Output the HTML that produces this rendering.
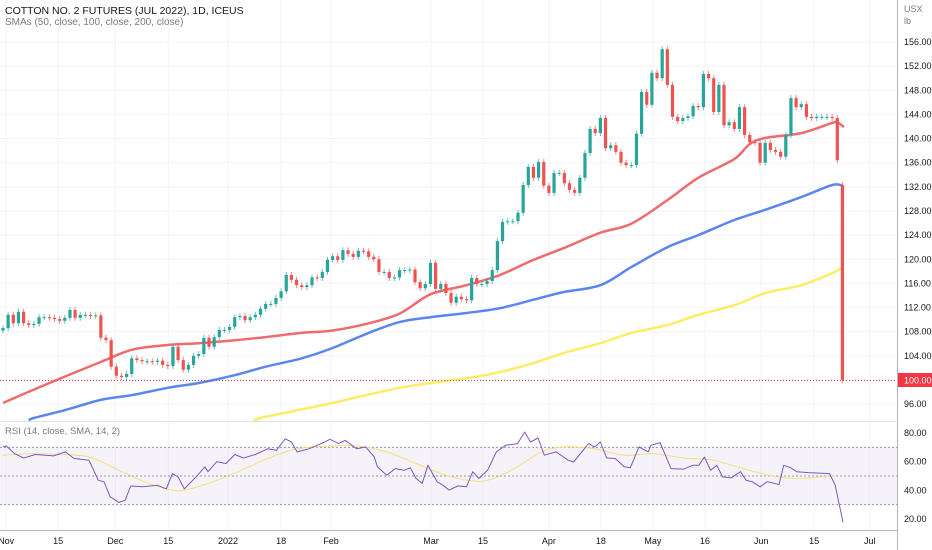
<!DOCTYPE html>
<html><head><meta charset="utf-8"><style>
html,body{margin:0;padding:0;background:#fff;}
svg{display:block;font-family:"Liberation Sans",sans-serif;}
</style></head><body>
<svg id="chart" width="932" height="550" viewBox="0 0 932 550">
<rect x="0" y="0" width="932" height="550" fill="#fff"/>
<g id="grid"></g>
<g id="rsiPane"></g>
<g id="smaLines"></g>
<g id="candles"></g>
<g id="axes"></g>
<text x="5" y="14" font-size="10.5" fill="#131722">COTTON NO. 2 FUTURES (JUL 2022), 1D, ICEUS</text>
<text x="5" y="25" font-size="10" fill="#787b86">SMAs (50, close, 100, close, 200, close)</text>
<text x="5" y="434" font-size="9.5" fill="#787b86">RSI (14, close, SMA, 14, 2)</text>
</svg>
<script>
const closes = [108.6,110.8,109.4,111.3,109.4,109.1,109.3,110.4,110.4,110.3,110.1,109.8,110.3,111.6,110.3,110.8,110.8,110.6,110.7,107,106.6,102.2,100.7,100.5,101,103.6,103.3,103.1,103.1,103,103.2,102.5,102.3,105.5,103.3,101.7,102.5,104,104.3,107,105.5,107.1,108.3,108.3,108.8,110.4,110.6,109.9,110.4,110.8,111.8,112.6,112.6,113.6,114.7,117.4,116.6,115.7,
115.4,115.7,117,116.9,117.9,119.9,120.5,119.9,121.5,120.9,120.4,121.4,121.3,120.4,120,117.9,117.9,116.9,117,118.2,118.2,118.3,116.2,115.2,115.9,119.4,115.1,115.9,114.4,112.8,113.8,113.4,113.2,116.9,115.9,115.9,116.4,118.2,123,126.2,126.3,126.3,127.7,132.3,135.3,133.5,136.1,132.2,131,134.3,134.3,132.6,131.5,131,133.5,137.6,
141.6,140.9,143.4,138.4,138.9,137.8,136,135.6,135.6,140.8,147.7,145.6,150.9,150,154.8,148.9,143.6,142.9,143.4,143.7,145.4,145.2,150.7,150,144.4,148.9,142.2,142.7,141.6,145.2,140.6,139.4,139.3,136,139.3,138.1,137.8,137,140.6,146.7,145.2,145.7,143.6,143.4,143.6,143.6,143.6,143.4,136.4,100];
const firstOpen = 108.2;
const gapOpenIdx = [163];
const gapOpenVal = [132.3];

const sma50Idx = [0,9,19,25,32,38,45,51,58,64,71,77,83,90,96.5,103,109,116,122,129,135,142,145,148,155,161,162,163.3];
const sma50Val = [96.2,99.5,103,105,105.8,106.1,106.6,107.1,107.8,108.2,109.4,111,114.2,115.7,117.4,119.9,121.9,124.4,125.9,129.8,133.5,136.6,139.1,140.1,140.9,142.6,142.7,141.9];
const sma100Idx = [5,6,12,19,25,32,38,45,51,58,64,71,77,83,90,96.5,103,109,116,122,129,135,142,148,155,161,163];
const sma100Val = [93.3,93.7,95,96.7,97.5,98.7,99.5,100.8,102.2,103.6,105.3,107.8,109.6,110.4,111.1,111.9,113.3,114.6,115.7,118.7,122,124,126.5,128.2,130.3,132.3,132.2];
const sma200Idx = [49.5,50,64,77,90,96.5,103,109,116,122,129,135,142,148,155,161,163];
const sma200Val = [93.3,93.7,96.2,98.7,100.3,101.3,102.8,104.5,106.1,107.8,109.1,110.8,112.4,114.4,115.7,117.7,118.7];

const rsiIdx = [0,0.6,2.3,4,6.3,9.8,12.1,13.8,16.7,18.5,19.6,20.8,22.5,23.7,24.8,27.1,30,31.7,32.9,34,35.2,37.5,39.2,39.8,41.5,43.3,45,46.7,49,51.4,53.1,54.8,56,57.1,59.4,61.8,63.5,65.2,66.4,68.7,70.4,72.1,72.7,74.5,76.2,77.9,79.1,80.2,81.4,82.5,84.3,85.4,86.6,88.3,90,91.2,92.4,94.1,95.8,97.6,99.9,101.3,102.4,103.9,105.1,107.4,109.7,110.8,113.7,114.9,116,117.2,118.9,120.6,121.8,123.5,125.3,125.8,127.6,129.7,132.2,133.9,135.1,136.2,137.4,138.6,139.7,141.4,143.2,144.3,145.5,147,148.4,150.7,151.6,153,154.1,156.4,160.5,161.6,163.1];
const rsiVal = [70.3,71,65.6,62.6,65,64,66.8,62.2,61,47,46,35.5,31.6,33,43,42.5,43.6,41,51.7,49.4,41,49.4,56.4,53,60,58.7,65,62.6,65,69,68,76,73.7,66.8,69,72.6,75.6,72.6,74.9,69,70.3,63.3,56.4,50.6,55.2,54,55.7,48.3,44.8,57.5,46,43.6,40.2,43,42.5,53,48.3,54,66.8,71.4,72.6,80.7,73.7,76.5,64.5,66.8,61,59.8,72.6,70.3,73.7,62.6,62.2,56.4,55.7,70.3,66.8,71.4,73.3,55.2,54.8,57.5,57.5,63.3,54,57.5,49.4,48.7,53,47,46,42.5,46,44.1,57.5,55.7,53,52.4,51.7,43.6,17.7];
const rsiSmaIdx = [0,5.2,10.9,16.7,22.5,28.3,32.9,35.2,39.8,45.6,51.4,57.1,64.1,68.7,74.5,80.2,86,91.8,95.2,99.9,104.5,109.1,114.9,120.6,126.4,132.2,137.9,143.7,149.5,154.1,158.7,161.6];
const rsiSmaVal = [64.5,65.6,65,63.3,54,44.8,40.2,40.2,44.8,53,62.2,69,71,71,66.8,58.7,50.6,46.4,48.3,56.4,66.8,70.3,69,64.5,65.6,62.6,61,55.2,49.9,48.3,49.4,49.9];

const priceTicks = [156,152,148,144,140,136,132,128,124,120,116,112,108,104,96];
const rsiTicks = [80,60,40,20];
const timeLabels = ["Nov","15","Dec","15","2022","18","Feb","Mar","15","Apr","18","May","16","Jun","15","Jul"];
const timeIdx = [0.6,10.7,21.8,32.1,43.7,54,63.7,83.1,93.2,106,116.1,126.2,136.3,147.2,157.5,168.3];

const NS="http://www.w3.org/2000/svg";
function mk(tag,attrs,parent){const e=document.createElementNS(NS,tag);for(const k in attrs)e.setAttribute(k,attrs[k]);parent.appendChild(e);return e;}
const X0=3, STEP=5.15;
function xOf(i){return X0+i*STEP;}
function yP(p){return 380-(p-100)*6.036;}
function yR(v){return 519-(v-20)*1.433;}
const AX=897;

const grid=document.getElementById('grid');
priceTicks.concat([100]).forEach(p=>{const l=mk('line',{x1:0,x2:AX,y1:yP(p),y2:yP(p),stroke:'#f3f4f7','stroke-width':1},grid);

});
timeIdx.forEach(i=>{const l=mk('line',{x1:xOf(i),x2:xOf(i),y1:0,y2:530,stroke:'#f3f4f7','stroke-width':1},grid);

});

const rp=document.getElementById('rsiPane');
const band=mk('rect',{x:0,y:yR(70),width:AX,height:yR(30)-yR(70),fill:'#7e57c2','fill-opacity':0.08},rp);


[70,50,30].forEach(v=>{const l=mk('line',{x1:0,x2:AX,y1:yR(v),y2:yR(v),stroke:'#9598a1','stroke-width':1,'stroke-dasharray':'2,2'},rp);

});
const sep=mk('line',{x1:0,x2:AX,y1:421.5,y2:421.5,stroke:'#e0e3eb','stroke-width':1},rp);


function poly(idx,val,yf,color,w,parent,name){
  const pts=idx.map((i,k)=>xOf(i).toFixed(1)+','+yf(val[k]).toFixed(1)).join(' ');
  const e=mk('polyline',{points:pts,fill:'none',stroke:color,'stroke-width':w,'stroke-linejoin':'round'},parent);
  
  
}
function smooth(idx,val,yf,color,w,parent,name){
  const P=idx.map((i,k)=>[xOf(i),yf(val[k])]);
  let d='M'+P[0][0].toFixed(1)+','+P[0][1].toFixed(1);
  for(let k=0;k<P.length-1;k++){
    const p0=P[Math.max(0,k-1)],p1=P[k],p2=P[k+1],p3=P[Math.min(P.length-1,k+2)];
    const c1=[p1[0]+(p2[0]-p0[0])/6,p1[1]+(p2[1]-p0[1])/6];
    const c2=[p2[0]-(p3[0]-p1[0])/6,p2[1]-(p3[1]-p1[1])/6];
    d+=' C'+c1.map(v=>v.toFixed(1)).join(',')+' '+c2.map(v=>v.toFixed(1)).join(',')+' '+p2[0].toFixed(1)+','+p2[1].toFixed(1);
  }
  const e=mk('path',{d:d,fill:'none',stroke:color,'stroke-width':w,'stroke-linejoin':'round'},parent);
  
  
}
smooth(rsiSmaIdx,rsiSmaVal,yR,'#f2e07e',1,rp,'rsi-sma-line');
poly(rsiIdx,rsiVal,yR,'#7e57c2',1,rp,'rsi-line');

const sl=document.getElementById('smaLines');
smooth(sma200Idx,sma200Val,yP,'#fbee66',2.5,sl,'sma200-line');
smooth(sma100Idx,sma100Val,yP,'#5b85f0',2.5,sl,'sma100-line');
smooth(sma50Idx,sma50Val,yP,'#ee6b6e',2.5,sl,'sma50-line');

const dl=mk('line',{x1:0,x2:AX,y1:380.5,y2:380.5,stroke:'#f23645','stroke-width':1,'stroke-dasharray':'1,2'},sl);



const cg=document.getElementById('candles');
closes.forEach((c,i)=>{
  let o = i===0?firstOpen:closes[i-1];
  const g=gapOpenIdx.indexOf(i); if(g>=0)o=gapOpenVal[g];
  const up=c>=o, col=up?'#26a69a':'#ef5350';
  const x=xOf(i), yt=yP(Math.max(o,c)), yb=yP(Math.min(o,c));
  const wk=mk('line',{x1:x,x2:x,y1:yt-3,y2:yb+3,stroke:col,'stroke-width':1,'stroke-opacity':0.7},cg);
  
  
  const b=mk('rect',{x:x-1.6,y:yt,width:3.2,height:Math.max(1,yb-yt),fill:col},cg);
  
  
});

const ax=document.getElementById('axes');
const al=mk('line',{x1:AX+0.5,x2:AX+0.5,y1:0,y2:550,stroke:'#b2b5be','stroke-width':1},ax);


const tl=mk('line',{x1:0,x2:AX,y1:530.5,y2:530.5,stroke:'#b2b5be','stroke-width':1},ax);


function txt(s,x,y,attrs,name){const t=mk('text',Object.assign({x:x,y:y,'font-size':9,fill:'#131722'},attrs),ax);t.textContent=s;

return t;}
txt('USX',904,12,{fill:'#787b86'},'unit-label');
txt('lb',904,24,{fill:'#787b86'},'unit-label-lb');
priceTicks.forEach(p=>txt(p.toFixed(2),904,yP(p)+3,{},'price-tick-label'));
rsiTicks.forEach(v=>txt(v.toFixed(2),904,yR(v)+3,{},'rsi-tick-label'));
timeLabels.forEach((s,k)=>txt(s,xOf(timeIdx[k]),544,{'text-anchor':'middle'},'time-tick-label'));
const pb=mk('rect',{x:AX+1,y:373,width:34,height:14,fill:'#f23645'},ax);


txt('100.00',904,383.5,{fill:'#fff'},'last-price-label');
</script>
</body></html>
